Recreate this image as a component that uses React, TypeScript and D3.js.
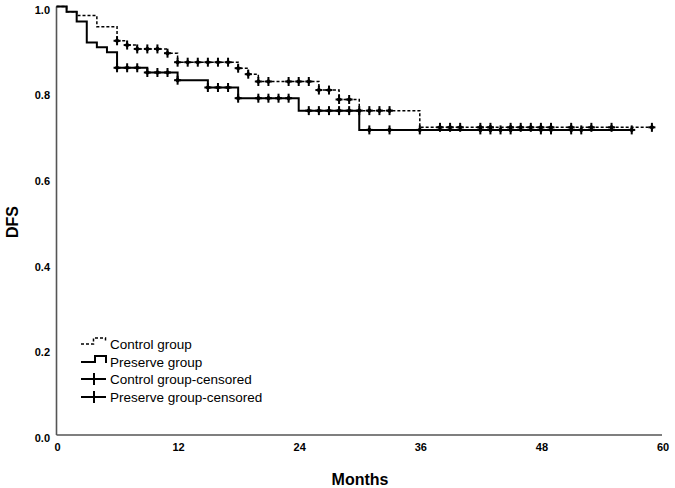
import { useEffect, useRef } from "react"
import * as d3 from "d3"

// Kaplan-Meier steps (months, survival)
const controlTimes = [0, 1, 2, 4, 6, 7, 8, 11, 12, 18, 19, 20, 26, 28, 30, 36]
const controlSurv = [1, 0.988, 0.979, 0.953, 0.92, 0.91, 0.901, 0.891, 0.87, 0.856, 0.842, 0.825, 0.805, 0.783, 0.757, 0.718]
const controlEnd = 59
const controlCensored = [
  6, 7, 8, 9, 10, 11, 12, 13, 14, 15, 16, 17, 18, 19, 20, 21, 23, 24, 25, 26, 27, 28, 29, 30, 31, 32, 33, 38, 39, 40,
  42, 43, 45, 46, 47, 48, 49, 51, 53, 55, 59,
]

const preserveTimes = [0, 1, 2, 3, 4, 5, 6, 9, 12, 15, 18, 24, 30]
const preserveSurv = [1, 0.988, 0.965, 0.916, 0.905, 0.893, 0.857, 0.846, 0.828, 0.811, 0.786, 0.757, 0.712]
const preserveEnd = 57
const preserveCensored = [
  6, 7, 8, 9, 10, 11, 12, 15, 16, 17, 18, 20, 21, 22, 23, 25, 26, 27, 28, 29, 31, 33, 36, 42, 43, 44, 45, 48, 49, 51,
  52, 57,
]

const xTicks = [0, 12, 24, 36, 48, 60]
const yTicks = [0, 0.2, 0.4, 0.6, 0.8, 1.0]
const legendLabels = ["Control group", "Preserve group", "Control group-censored", "Preserve group-censored"]

const W = 675
const H = 488

function survAt(times: number[], surv: number[], t: number) {
  let v = surv[0]
  times.forEach((tt, i) => {
    if (tt <= t) v = surv[i]
  })
  return v
}

export default function App() {
  const svgRef = useRef<SVGSVGElement>(null)

  useEffect(() => {
    if (!svgRef.current) return
    const svg = d3.select(svgRef.current)
    svg.selectAll("*").remove()

    const x = d3.scaleLinear().domain([0, 60]).range([56.5, 662])
    const y = d3.scaleLinear().domain([0, 1]).range([435, 6.5])

    svg.append("rect").attr("width", W).attr("height", H).attr("fill", "#fff")

    // axes (no tick marks, SPSS style)
    svg.append("line")
      .attr("x1", x(0)).attr("x2", x(0))
      .attr("y1", y(1)).attr("y2", y(0))
      .attr("stroke", "#555").attr("stroke-width", 1.6)
    svg.append("line")
      .attr("x1", x(0)).attr("x2", x(60))
      .attr("y1", y(0)).attr("y2", y(0))
      .attr("stroke", "#555").attr("stroke-width", 1.6)

    svg.append("g")
      .selectAll("text")
      .data(yTicks)
      .enter()
      .append("text")
      .attr("x", 50)
      .attr("y", (d) => y(d) + 7)
      .attr("text-anchor", "end")
      .attr("font-size", 11)
      .attr("font-weight", "bold")
      .text((d) => d.toFixed(1))

    svg.append("g")
      .selectAll("text")
      .data(xTicks)
      .enter()
      .append("text")
      .attr("x", (d) => x(d) + 1)
      .attr("y", 451)
      .attr("text-anchor", "middle")
      .attr("font-size", 11)
      .attr("font-weight", "bold")
      .text((d) => d)

    svg.append("text")
      .attr("x", 360)
      .attr("y", 485)
      .attr("text-anchor", "middle")
      .attr("font-size", 16)
      .attr("font-weight", "bold")
      .text("Months")

    svg.append("text")
      .attr("transform", "translate(18,222) rotate(-90)")
      .attr("text-anchor", "middle")
      .attr("font-size", 16)
      .attr("font-weight", "bold")
      .text("DFS")

    const line = d3
      .line<[number, number]>()
      .x((d) => x(d[0]))
      .y((d) => y(d[1]))
      .curve(d3.curveStepAfter)

    const series = [
      { times: controlTimes, surv: controlSurv, end: controlEnd, cens: controlCensored, dash: "3,2", w: 1.5 },
      { times: preserveTimes, surv: preserveSurv, end: preserveEnd, cens: preserveCensored, dash: null, w: 2 },
    ]

    series.forEach((s) => {
      const pts: [number, number][] = s.times.map((t, i) => [t, s.surv[i]])
      pts.push([s.end, s.surv[s.surv.length - 1]])
      svg.append("path")
        .attr("d", line(pts))
        .attr("fill", "none")
        .attr("stroke", "#000")
        .attr("stroke-width", s.w)
        .attr("stroke-dasharray", s.dash)

      // censor marks: small bold plus with a thicker centre
      const marks = svg.append("g").selectAll("g").data(s.cens).enter().append("g")
        .attr("transform", (t) => `translate(${x(t)},${y(survAt(s.times, s.surv, t))})`)
      marks.append("line").attr("x1", -3.5).attr("x2", 3.5).attr("stroke", "#000").attr("stroke-width", 2)
      marks.append("line").attr("y1", -4.5).attr("y2", 4.5).attr("stroke", "#000").attr("stroke-width", 2)
      marks.append("rect").attr("x", -2).attr("y", -2).attr("width", 4).attr("height", 4)
        .attr("transform", "rotate(45)").attr("fill", "#000")
    })

    // legend
    const lg = svg.append("g")
    const rowY = [344, 362, 379, 397]
    lg.append("path")
      .attr("d", `M81,${rowY[0]}H93.5V${rowY[0] - 6}H105.5V${rowY[0] - 2}`)
      .attr("fill", "none").attr("stroke", "#000").attr("stroke-width", 1.5).attr("stroke-dasharray", "3,2")
    lg.append("path")
      .attr("d", `M81,${rowY[1]}H95V${rowY[1] - 6}H106V${rowY[1] + 1}`)
      .attr("fill", "none").attr("stroke", "#000").attr("stroke-width", 2)
    ;[rowY[2], rowY[3]].forEach((ry) => {
      lg.append("line").attr("x1", 81).attr("x2", 106).attr("y1", ry).attr("y2", ry)
        .attr("stroke", "#000").attr("stroke-width", 2)
      lg.append("line").attr("x1", 94).attr("x2", 94).attr("y1", ry - 6).attr("y2", ry + 6)
        .attr("stroke", "#000").attr("stroke-width", 2)
    })
    lg.selectAll("text")
      .data(legendLabels)
      .enter()
      .append("text")
      .attr("x", 110)
      .attr("y", (_, i) => rowY[i] + 5)
      .attr("font-size", 13.5)
      .text((d) => d)
  }, [])

  return (
    <svg
      ref={svgRef}
      width={W}
      height={H}
      fontFamily="'Liberation Sans', Arial, sans-serif"
      style={{ position: "absolute", left: 0, top: 0 }}
    />
  )
}
